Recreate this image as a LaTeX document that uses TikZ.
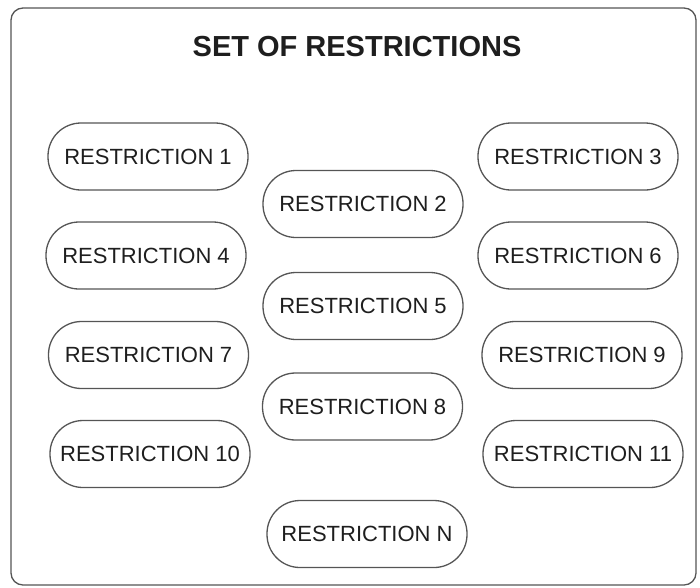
\documentclass[tikz,border=0pt]{standalone}
\usepackage{fontspec}
\setmainfont{Liberation Sans}
\usepackage{tikz}
\usetikzlibrary{positioning}
\definecolor{cline}{RGB}{85,85,85}
\definecolor{ctext}{RGB}{30,30,30}

\begin{document}
\begin{tikzpicture}[x=1pt,y=-1pt,
  frame/.style={draw=cline,line width=1.3pt,rounded corners=12pt},
  restr/.style={draw=cline,line width=1.3pt,rounded corners=33pt,minimum width=200pt,minimum height=67pt,
    inner sep=0pt,text=ctext,font=\fontsize{22}{26}\selectfont},
  heading/.style={text=ctext,font=\fontsize{29}{34}\selectfont\bfseries},
]
\useasboundingbox (0,0) rectangle (700,587);
\draw[frame] (11,8) rectangle (696,585);
\node[heading] (title) at (357,47) {SET OF RESTRICTIONS};
% left column
\node[restr] (r1) at (148,156.5) {RESTRICTION 1};
\node[restr] (r4) at (146,255.5) {RESTRICTION 4};
\node[restr] (r7) at (148.5,355) {RESTRICTION 7};
\node[restr] (r10) at (150,454) {RESTRICTION 10};
% middle column
\node[restr] (r2) at (363,204) {RESTRICTION 2};
\node[restr] (r5) at (363,306) {RESTRICTION 5};
\node[restr] (r8) at (362.5,406.5) {RESTRICTION 8};
\node[restr] (rn) at (367,534) {RESTRICTION N};
% right column
\node[restr] (r3) at (578,156.5) {RESTRICTION 3};
\node[restr] (r6) at (578,255.5) {RESTRICTION 6};
\node[restr] (r9) at (582,355) {RESTRICTION 9};
\node[restr] (r11) at (583,454) {RESTRICTION 11};
\end{tikzpicture}
\end{document}
